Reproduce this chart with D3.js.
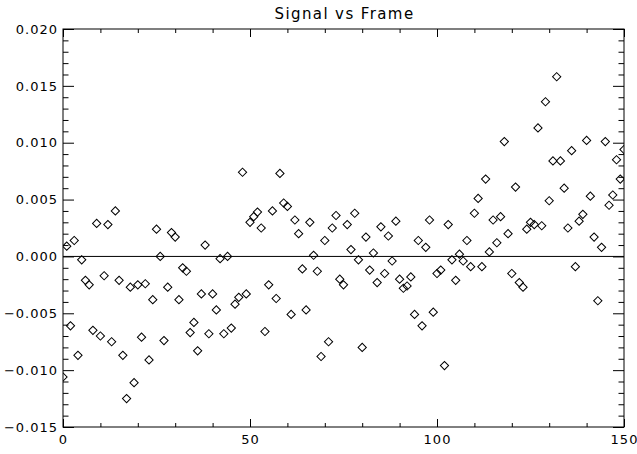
<!DOCTYPE html>
<html>
<head>
<meta charset="utf-8">
<script src="https://cdn.jsdelivr.net/npm/d3@7"></script>
<style>
  html, body { margin: 0; padding: 0; background: #fff; }
  text { font-family: "DejaVu Sans", sans-serif; fill: #000; }
</style>
</head>
<body>
<svg id="chart"></svg>
<script>
/* ------------ DATA --------------------------------------------------- */
const title = 'Signal vs Frame';
const xTicks = [0, 50, 100, 150];
const yTicks = [-0.015, -0.010, -0.005, 0.000, 0.005, 0.010, 0.015, 0.020];

const signal = [
  -0.0106, 0.0009, -0.0061, 0.0014, -0.0087, -0.0003, -0.0021, -0.0025, -0.0065, 0.0029,
  -0.0070, -0.0017, 0.0028, -0.0075, 0.0040, -0.0021, -0.0087, -0.0125, -0.0027, -0.0111,
  -0.0025, -0.0071, -0.0024, -0.0091, -0.0038, 0.0024, 0.0000, -0.0074, -0.0027, 0.0021,
  0.0017, -0.0038, -0.0010, -0.0013, -0.0067, -0.0058, -0.0083, -0.0033, 0.0010, -0.0068,
  -0.0033, -0.0047, -0.0002, -0.0068, 0.0000, -0.0063, -0.0042, -0.0036, 0.0074, -0.0033,
  0.0030, 0.0035, 0.0039, 0.0025, -0.0066, -0.0025, 0.0040, -0.0037, 0.0073, 0.0047,
  0.0044, -0.0051, 0.0032, 0.0020, -0.0011, -0.0047, 0.0030, 0.0001, -0.0013, -0.0088,
  0.0014, -0.0075, 0.0025, 0.0036, -0.0020, -0.0025, 0.0028, 0.0006, 0.0038, -0.0003,
  -0.0080, 0.0017, -0.0012, 0.0003, -0.0023, 0.0026, -0.0015, 0.0018, -0.0004, 0.0031,
  -0.0020, -0.0028, -0.0026, -0.0018, -0.0051, 0.0014, -0.0061, 0.0008, 0.0032, -0.0049,
  -0.0015, -0.0012, -0.0096, 0.0028, -0.0003, -0.0021, 0.0002, -0.0004, 0.0014, -0.0009,
  0.0038, 0.0051, -0.0009, 0.0068, 0.0004, 0.0032, 0.0012, 0.0035, 0.0101, 0.0020,
  -0.0015, 0.0061, -0.0023, -0.0027, 0.0024, 0.0030, 0.0028, 0.0113, 0.0027, 0.0136,
  0.0049, 0.0084, 0.0158, 0.0084, 0.0060, 0.0025, 0.0093, -0.0009, 0.0031, 0.0037,
  0.0102, 0.0053, 0.0017, -0.0039, 0.0008, 0.0101, 0.0045, 0.0054, 0.0085, 0.0068,
  0.0094
];
const frames = signal.map((_, i) => i);

/* ------------ LAYOUT ------------------------------------------------- */
const W = 637, H = 454;
const L = 63, R = 624, T = 29, B = 427;

const svg = d3.select('#chart').attr('width', W).attr('height', H);

const x = d3.scaleLinear().domain([0, 150]).range([L, R]);
const y = d3.scaleLinear().domain([-0.015, 0.020]).range([B, T]);

const fmt = v => (v < 0 ? '\u2212' : '') + Math.abs(v).toFixed(3);

/* ------------ AXES --------------------------------------------------- */
const xMinor = d3.range(0, 151, 10).filter(v => !xTicks.includes(v));
const yMinor = d3.range(-15, 21, 1).map(v => v / 1000).filter(v => Math.round(v * 1000) % 5 !== 0);

function styleAxis(g) {
  g.select('.domain').remove();
  g.selectAll('line').attr('stroke', '#000').attr('stroke-width', 1);
  g.selectAll('text').attr('font-size', 13).attr('letter-spacing', 1);
}

svg.append('g').attr('transform', `translate(0,${B})`)
  .call(d3.axisBottom(x).tickValues(xTicks).tickSize(-8).tickPadding(8).tickFormat(d3.format('d')))
  .call(styleAxis);
svg.append('g').attr('transform', `translate(0,${B})`)
  .call(d3.axisBottom(x).tickValues(xMinor).tickSize(-4).tickFormat(''))
  .call(styleAxis);
svg.append('g').attr('transform', `translate(0,${T})`)
  .call(d3.axisTop(x).tickValues(xTicks).tickSize(-8).tickFormat(''))
  .call(styleAxis);
svg.append('g').attr('transform', `translate(0,${T})`)
  .call(d3.axisTop(x).tickValues(xMinor).tickSize(-4).tickFormat(''))
  .call(styleAxis);

svg.append('g').attr('transform', `translate(${L},0)`)
  .call(d3.axisLeft(y).tickValues(yTicks).tickSize(-11).tickPadding(5).tickFormat(fmt))
  .call(styleAxis);
svg.append('g').attr('transform', `translate(${L},0)`)
  .call(d3.axisLeft(y).tickValues(yMinor).tickSize(-5.5).tickFormat(''))
  .call(styleAxis);
svg.append('g').attr('transform', `translate(${R},0)`)
  .call(d3.axisRight(y).tickValues(yTicks).tickSize(-11).tickFormat(''))
  .call(styleAxis);
svg.append('g').attr('transform', `translate(${R},0)`)
  .call(d3.axisRight(y).tickValues(yMinor).tickSize(-5.5).tickFormat(''))
  .call(styleAxis);

// frame
svg.append('rect')
  .attr('x', L).attr('y', T).attr('width', R - L).attr('height', B - T)
  .attr('fill', 'none').attr('stroke', '#000').attr('stroke-width', 1);

// zero line
svg.append('line')
  .attr('x1', L).attr('x2', R).attr('y1', y(0)).attr('y2', y(0))
  .attr('stroke', '#000').attr('stroke-width', 1);

/* ------------ POINTS ------------------------------------------------- */
svg.append('clipPath').attr('id', 'clip')
  .append('rect').attr('x', L).attr('y', T).attr('width', R - L).attr('height', B - T);

const diamond = d3.symbol(d3.symbolSquare, 34);

svg.append('g').attr('clip-path', 'url(#clip)')
  .selectAll('path')
  .data(frames)
  .join('path')
    .attr('d', diamond)
    .attr('transform', i => `translate(${x(i)},${y(signal[i])}) rotate(45)`)
    .attr('fill', 'none')
    .attr('stroke', '#000')
    .attr('stroke-width', 1);

/* ------------ TITLE -------------------------------------------------- */
svg.append('text')
  .attr('x', (L + R) / 2 + 1).attr('y', 19)
  .attr('text-anchor', 'middle')
  .attr('font-size', 15)
  .attr('letter-spacing', 1.4)
  .text(title);
</script>
</body>
</html>
